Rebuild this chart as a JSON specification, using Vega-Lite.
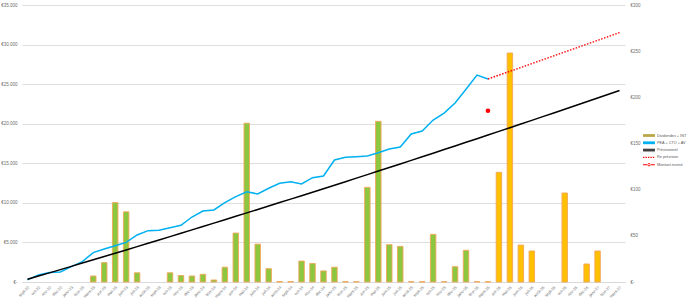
{
  "$schema": "https://vega.github.io/schema/vega-lite/v6.json",
  "width": 603,
  "height": 277,
  "autosize": {"type": "none"},
  "padding": {"left": 22, "top": 5, "right": 65, "bottom": 19},
  "background": "white",
  "config": {
    "view": {"stroke": null},
    "font": "Liberation Sans",
    "axis": {"labelColor": "#6E6E6E", "title": null, "ticks": false}
  },
  "datasets": {
    "bars": [
      {"mois": "mars-23", "val": 6.5, "periode": "réel"},
      {"mois": "avr-23", "val": 21, "periode": "réel"},
      {"mois": "mai-23", "val": 86, "periode": "réel"},
      {"mois": "juin-23", "val": 76, "periode": "réel"},
      {"mois": "juil-23", "val": 10, "periode": "réel"},
      {"mois": "oct-23", "val": 10, "periode": "réel"},
      {"mois": "nov-23", "val": 7, "periode": "réel"},
      {"mois": "déc-23", "val": 6.5, "periode": "réel"},
      {"mois": "janv-24", "val": 8.3, "periode": "réel"},
      {"mois": "févr-24", "val": 2.2, "periode": "réel"},
      {"mois": "mars-24", "val": 16, "periode": "réel"},
      {"mois": "avr-24", "val": 53, "periode": "réel"},
      {"mois": "mai-24", "val": 172, "periode": "réel"},
      {"mois": "juin-24", "val": 41, "periode": "réel"},
      {"mois": "juil-24", "val": 14.4, "periode": "réel"},
      {"mois": "août-24", "val": 0.5, "periode": "réel"},
      {"mois": "sept-24", "val": 0.5, "periode": "réel"},
      {"mois": "oct-24", "val": 22.7, "periode": "réel"},
      {"mois": "nov-24", "val": 20, "periode": "réel"},
      {"mois": "déc-24", "val": 12, "periode": "réel"},
      {"mois": "janv-25", "val": 16, "periode": "réel"},
      {"mois": "févr-25", "val": 0.4, "periode": "réel"},
      {"mois": "mars-25", "val": 0.3, "periode": "réel"},
      {"mois": "avr-25", "val": 102.5, "periode": "réel"},
      {"mois": "mai-25", "val": 174, "periode": "réel"},
      {"mois": "juin-25", "val": 40.4, "periode": "réel"},
      {"mois": "juil-25", "val": 38.6, "periode": "réel"},
      {"mois": "août-25", "val": 0.3, "periode": "réel"},
      {"mois": "sept-25", "val": 0.3, "periode": "réel"},
      {"mois": "oct-25", "val": 51.6, "periode": "réel"},
      {"mois": "nov-25", "val": 0.3, "periode": "réel"},
      {"mois": "déc-25", "val": 16.6, "periode": "réel"},
      {"mois": "janv-26", "val": 34.3, "periode": "réel"},
      {"mois": "févr-26", "val": 0.3, "periode": "prévu"},
      {"mois": "mars-26", "val": 0.3, "periode": "prévu"},
      {"mois": "avr-26", "val": 118.8, "periode": "prévu"},
      {"mois": "mai-26", "val": 248, "periode": "prévu"},
      {"mois": "juin-26", "val": 40, "periode": "prévu"},
      {"mois": "juil-26", "val": 33.6, "periode": "prévu"},
      {"mois": "oct-26", "val": 96.4, "periode": "prévu"},
      {"mois": "déc-26", "val": 19.5, "periode": "prévu"},
      {"mois": "janv-27", "val": 33.6, "periode": "prévu"}
    ],
    "lines": [
      {"mois": "sept-22", "serie": "PEA + CTO + AV", "val": 260},
      {"mois": "oct-22", "serie": "PEA + CTO + AV", "val": 900},
      {"mois": "nov-22", "serie": "PEA + CTO + AV", "val": 1200},
      {"mois": "déc-22", "serie": "PEA + CTO + AV", "val": 1270},
      {"mois": "janv-23", "serie": "PEA + CTO + AV", "val": 1940},
      {"mois": "févr-23", "serie": "PEA + CTO + AV", "val": 2570},
      {"mois": "mars-23", "serie": "PEA + CTO + AV", "val": 3710},
      {"mois": "avr-23", "serie": "PEA + CTO + AV", "val": 4170},
      {"mois": "mai-23", "serie": "PEA + CTO + AV", "val": 4590},
      {"mois": "juin-23", "serie": "PEA + CTO + AV", "val": 5010},
      {"mois": "juil-23", "serie": "PEA + CTO + AV", "val": 5940},
      {"mois": "août-23", "serie": "PEA + CTO + AV", "val": 6490},
      {"mois": "sept-23", "serie": "PEA + CTO + AV", "val": 6530},
      {"mois": "oct-23", "serie": "PEA + CTO + AV", "val": 6860},
      {"mois": "nov-23", "serie": "PEA + CTO + AV", "val": 7160},
      {"mois": "déc-23", "serie": "PEA + CTO + AV", "val": 8210},
      {"mois": "janv-24", "serie": "PEA + CTO + AV", "val": 8970},
      {"mois": "févr-24", "serie": "PEA + CTO + AV", "val": 9100},
      {"mois": "mars-24", "serie": "PEA + CTO + AV", "val": 10020},
      {"mois": "avr-24", "serie": "PEA + CTO + AV", "val": 10780},
      {"mois": "mai-24", "serie": "PEA + CTO + AV", "val": 11410},
      {"mois": "juin-24", "serie": "PEA + CTO + AV", "val": 11120},
      {"mois": "juil-24", "serie": "PEA + CTO + AV", "val": 11840},
      {"mois": "août-24", "serie": "PEA + CTO + AV", "val": 12470},
      {"mois": "sept-24", "serie": "PEA + CTO + AV", "val": 12680},
      {"mois": "oct-24", "serie": "PEA + CTO + AV", "val": 12380},
      {"mois": "nov-24", "serie": "PEA + CTO + AV", "val": 13180},
      {"mois": "déc-24", "serie": "PEA + CTO + AV", "val": 13390},
      {"mois": "janv-25", "serie": "PEA + CTO + AV", "val": 15420},
      {"mois": "févr-25", "serie": "PEA + CTO + AV", "val": 15750},
      {"mois": "mars-25", "serie": "PEA + CTO + AV", "val": 15840},
      {"mois": "avr-25", "serie": "PEA + CTO + AV", "val": 15920},
      {"mois": "mai-25", "serie": "PEA + CTO + AV", "val": 16340},
      {"mois": "juin-25", "serie": "PEA + CTO + AV", "val": 16800},
      {"mois": "juil-25", "serie": "PEA + CTO + AV", "val": 17060},
      {"mois": "août-25", "serie": "PEA + CTO + AV", "val": 18700},
      {"mois": "sept-25", "serie": "PEA + CTO + AV", "val": 19080},
      {"mois": "oct-25", "serie": "PEA + CTO + AV", "val": 20470},
      {"mois": "nov-25", "serie": "PEA + CTO + AV", "val": 21350},
      {"mois": "déc-25", "serie": "PEA + CTO + AV", "val": 22620},
      {"mois": "janv-26", "serie": "PEA + CTO + AV", "val": 24350},
      {"mois": "févr-26", "serie": "PEA + CTO + AV", "val": 26150},
      {"mois": "mars-26", "serie": "PEA + CTO + AV", "val": 25650},
      {"mois": "sept-22", "serie": "Prévisionnel", "val": 341},
      {"mois": "oct-22", "serie": "Prévisionnel", "val": 748},
      {"mois": "nov-22", "serie": "Prévisionnel", "val": 1156},
      {"mois": "déc-22", "serie": "Prévisionnel", "val": 1566},
      {"mois": "janv-23", "serie": "Prévisionnel", "val": 1976},
      {"mois": "févr-23", "serie": "Prévisionnel", "val": 2389},
      {"mois": "mars-23", "serie": "Prévisionnel", "val": 2802},
      {"mois": "avr-23", "serie": "Prévisionnel", "val": 3217},
      {"mois": "mai-23", "serie": "Prévisionnel", "val": 3633},
      {"mois": "juin-23", "serie": "Prévisionnel", "val": 4050},
      {"mois": "juil-23", "serie": "Prévisionnel", "val": 4469},
      {"mois": "août-23", "serie": "Prévisionnel", "val": 4889},
      {"mois": "sept-23", "serie": "Prévisionnel", "val": 5311},
      {"mois": "oct-23", "serie": "Prévisionnel", "val": 5733},
      {"mois": "nov-23", "serie": "Prévisionnel", "val": 6157},
      {"mois": "déc-23", "serie": "Prévisionnel", "val": 6583},
      {"mois": "janv-24", "serie": "Prévisionnel", "val": 7010},
      {"mois": "févr-24", "serie": "Prévisionnel", "val": 7438},
      {"mois": "mars-24", "serie": "Prévisionnel", "val": 7867},
      {"mois": "avr-24", "serie": "Prévisionnel", "val": 8298},
      {"mois": "mai-24", "serie": "Prévisionnel", "val": 8730},
      {"mois": "juin-24", "serie": "Prévisionnel", "val": 9163},
      {"mois": "juil-24", "serie": "Prévisionnel", "val": 9598},
      {"mois": "août-24", "serie": "Prévisionnel", "val": 10034},
      {"mois": "sept-24", "serie": "Prévisionnel", "val": 10471},
      {"mois": "oct-24", "serie": "Prévisionnel", "val": 10909},
      {"mois": "nov-24", "serie": "Prévisionnel", "val": 11349},
      {"mois": "déc-24", "serie": "Prévisionnel", "val": 11791},
      {"mois": "janv-25", "serie": "Prévisionnel", "val": 12233},
      {"mois": "févr-25", "serie": "Prévisionnel", "val": 12677},
      {"mois": "mars-25", "serie": "Prévisionnel", "val": 13122},
      {"mois": "avr-25", "serie": "Prévisionnel", "val": 13569},
      {"mois": "mai-25", "serie": "Prévisionnel", "val": 14017},
      {"mois": "juin-25", "serie": "Prévisionnel", "val": 14466},
      {"mois": "juil-25", "serie": "Prévisionnel", "val": 14917},
      {"mois": "août-25", "serie": "Prévisionnel", "val": 15368},
      {"mois": "sept-25", "serie": "Prévisionnel", "val": 15822},
      {"mois": "oct-25", "serie": "Prévisionnel", "val": 16276},
      {"mois": "nov-25", "serie": "Prévisionnel", "val": 16732},
      {"mois": "déc-25", "serie": "Prévisionnel", "val": 17189},
      {"mois": "janv-26", "serie": "Prévisionnel", "val": 17648},
      {"mois": "févr-26", "serie": "Prévisionnel", "val": 18107},
      {"mois": "mars-26", "serie": "Prévisionnel", "val": 18569},
      {"mois": "avr-26", "serie": "Prévisionnel", "val": 19031},
      {"mois": "mai-26", "serie": "Prévisionnel", "val": 19495},
      {"mois": "juin-26", "serie": "Prévisionnel", "val": 19960},
      {"mois": "juil-26", "serie": "Prévisionnel", "val": 20426},
      {"mois": "août-26", "serie": "Prévisionnel", "val": 20894},
      {"mois": "sept-26", "serie": "Prévisionnel", "val": 21363},
      {"mois": "oct-26", "serie": "Prévisionnel", "val": 21834},
      {"mois": "nov-26", "serie": "Prévisionnel", "val": 22305},
      {"mois": "déc-26", "serie": "Prévisionnel", "val": 22778},
      {"mois": "janv-27", "serie": "Prévisionnel", "val": 23253},
      {"mois": "févr-27", "serie": "Prévisionnel", "val": 23728},
      {"mois": "mars-27", "serie": "Prévisionnel", "val": 24205}
    ],
    "reprev": [
      {"mois": "mars-26", "serie": "Re prévision", "val": 25650},
      {"mois": "mars-27", "serie": "Re prévision", "val": 31500}
    ],
    "investi": [
      {"mois": "mars-26", "serie": "Montant investi", "val": 21640}
    ]
  },
  "encoding": {
    "x": {
      "field": "mois",
      "type": "ordinal",
      "scale": {
        "domain": ["sept-22","oct-22","nov-22","déc-22","janv-23","févr-23","mars-23","avr-23","mai-23","juin-23","juil-23","août-23","sept-23","oct-23","nov-23","déc-23","janv-24","févr-24","mars-24","avr-24","mai-24","juin-24","juil-24","août-24","sept-24","oct-24","nov-24","déc-24","janv-25","févr-25","mars-25","avr-25","mai-25","juin-25","juil-25","août-25","sept-25","oct-25","nov-25","déc-25","janv-26","févr-26","mars-26","avr-26","mai-26","juin-26","juil-26","août-26","sept-26","oct-26","nov-26","déc-26","janv-27","févr-27","mars-27"],
        "paddingInner": 0.5,
        "paddingOuter": 0.25
      },
      "axis": {
        "labelAngle": -45,
        "labelFontSize": 4,
        "labelPadding": 3,
        "labelOverlap": false,
        "domainColor": "#D9D9D9",
        "grid": false
      }
    }
  },
  "layer": [
    {
      "data": {"name": "bars"},
      "mark": {"type": "bar", "stroke": "#F2A65A", "strokeWidth": 1, "strokeOpacity": 0.9},
      "encoding": {
        "y": {
          "field": "val",
          "type": "quantitative",
          "scale": {"domain": [0, 300], "nice": false},
          "axis": {
            "orient": "right",
            "values": [0, 50, 100, 150, 200, 250, 300],
            "grid": false,
            "domain": false,
            "labelFontSize": 4.5,
            "labelPadding": 5,
            "labelOverlap": false,
            "labelExpr": "datum.value == 0 ? '€-' : '€' + datum.value"
          }
        },
        "fill": {
          "field": "periode",
          "type": "nominal",
          "scale": {"domain": ["réel", "prévu"], "range": ["#8DC63F", "#FFC000"]},
          "legend": null
        }
      }
    },
    {
      "encoding": {
        "y": {
          "field": "val",
          "type": "quantitative",
          "scale": {"domain": [0, 35000], "nice": false},
          "axis": {
            "orient": "left",
            "values": [0, 5000, 10000, 15000, 20000, 25000, 30000, 35000],
            "grid": true,
            "gridColor": "#DEDEDE",
            "domain": false,
            "labelFontSize": 4.5,
            "labelPadding": 5,
            "labelOverlap": false,
            "labelExpr": "datum.value == 0 ? '€-' : '€' + replace(format(datum.value, ','), ',', '.')"
          }
        }
      },
      "layer": [
        {
          "data": {"name": "lines"},
          "mark": {"type": "line", "strokeWidth": 1.5},
          "encoding": {
            "color": {
              "field": "serie",
              "type": "nominal",
              "scale": {
                "domain": ["Dividendes + INT", "PEA + CTO + AV", "Prévisionnel", "Re prévision", "Montant investi"],
                "range": ["#B9A84A", "#00B0F0", "#000000", "#FF0000", "#FF0000"]
              },
              "legend": {
                "title": null,
                "orient": "none",
                "legendX": 623.5,
                "legendY": 127,
                "padding": 0,
                "labelFontSize": 3.8,
                "labelColor": "#595959",
                "symbolSize": 49,
                "labelOffset": 4.5,
                "rowPadding": 1.3,
                "encode": {
                  "symbols": {
                    "update": {
                      "shape": {"signal": "datum.value === 'Montant investi' ? 'M-1.7,-0.15H1.7V0.15H-1.7Z M-0.45,0A0.45,0.45 0 1,0 0.45,0A0.45,0.45 0 1,0 -0.45,0Z' : datum.value === 'Re prévision' ? 'M-1.7,-0.2H-1.3V0.2H-1.7Z M-1,-0.2H-0.6V0.2H-1Z M-0.3,-0.2H0.1V0.2H-0.3Z M0.4,-0.2H0.8V0.2H0.4Z M1.1,-0.2H1.5V0.2H1.1Z' : 'M-1.7,-0.4H1.7V0.4H-1.7Z'"},
                      "fill": {"signal": "datum.value === 'Prévisionnel' ? '#404040' : datum.value === 'Re prévision' || datum.value === 'Montant investi' ? '#FF0000' : datum.value === 'PEA + CTO + AV' ? '#00B0F0' : '#B9A84A'"},
                      "stroke": {"value": "transparent"},
                      "strokeWidth": {"value": 0},
                      "opacity": {"value": 1}
                    }
                  }
                }
              }
            }
          }
        },
        {
          "data": {"name": "reprev"},
          "mark": {"type": "line", "strokeWidth": 1.4, "strokeDash": [1.5, 1.5], "color": "#FF0000"}
        },
        {
          "data": {"name": "investi"},
          "mark": {"type": "point", "filled": true, "size": 22, "opacity": 1, "shape": "circle", "color": "#FF0000"}
        }
      ]
    }
  ],
  "resolve": {"scale": {"y": "independent"}}
}
